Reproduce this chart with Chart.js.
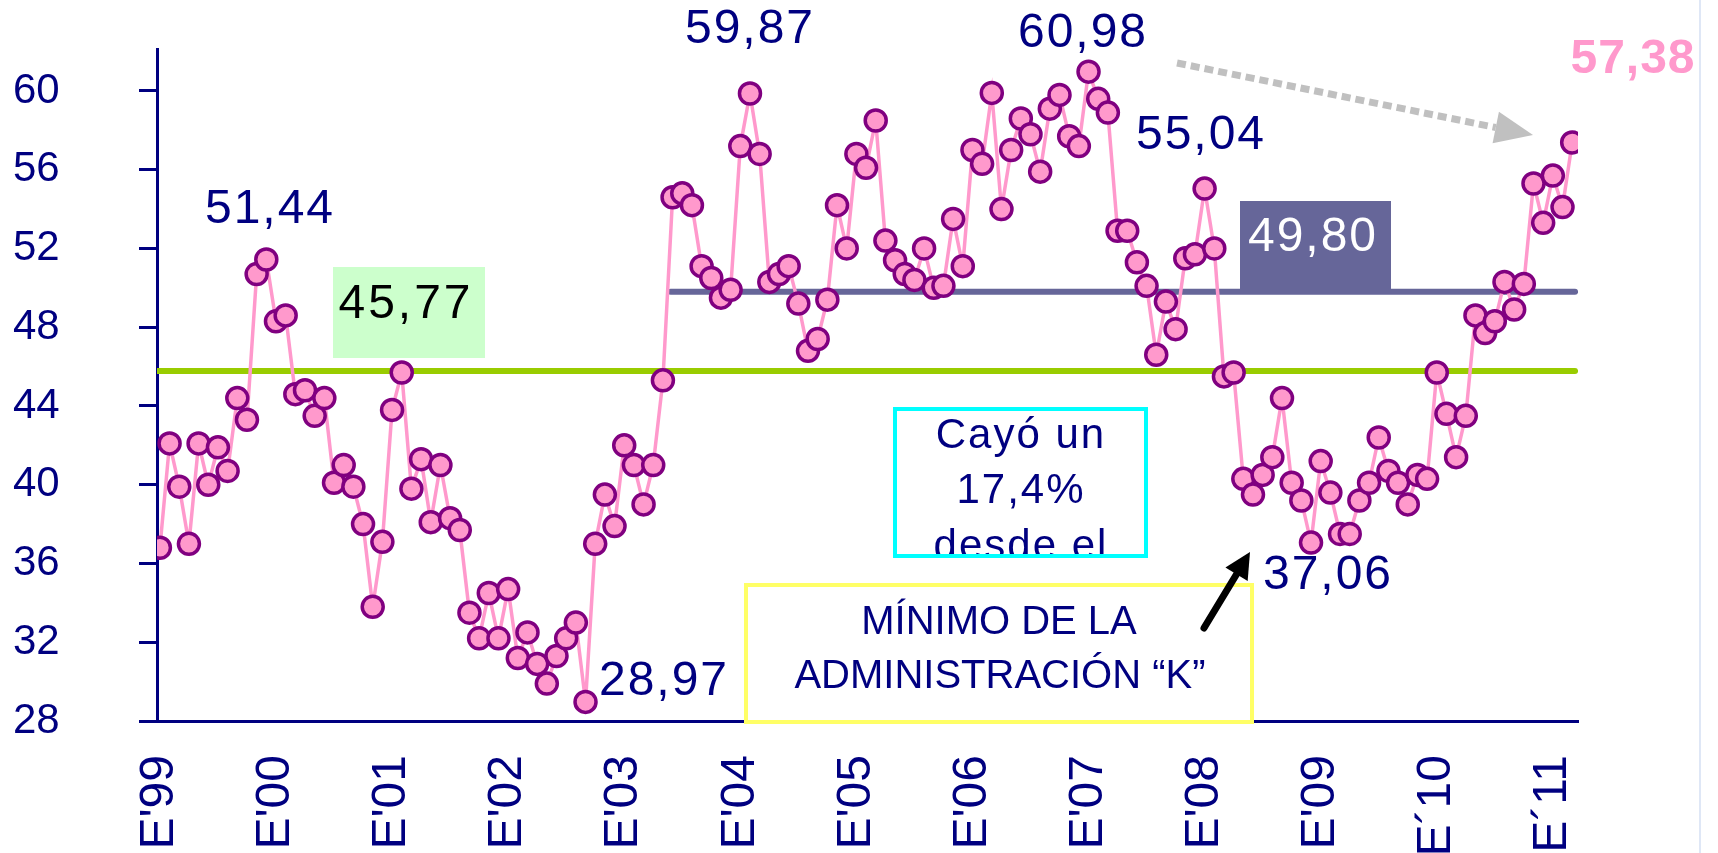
<!DOCTYPE html>
<html>
<head>
<meta charset="utf-8">
<script src="https://cdn.jsdelivr.net/npm/chart.js@4.4.0/dist/chart.umd.min.js"></script>
<style>
html,body{margin:0;padding:0;background:#ffffff;}
#wrap{width:1718px;height:853px;position:relative;}
</style>
</head>
<body>
<div id="wrap"><canvas id="c" width="1718" height="853"></canvas></div>
<script>
// ---- DATA ----
const yearLabels = ["E'99","E'00","E'01","E'02","E'03","E'04","E'05","E'06","E'07","E'08","E'09","E´10","E´11"];
const yearTickIndex = [0,12,24,36,48,60,72,84,96,108,120,132,144];

// Monthly index, Jan 1999 - Mar 2011
const indice1999 = [36.8,42.1,39.9,37.0,42.1,40.0,41.9,40.7,44.4,43.3,50.7,51.44];
const indice2000 = [48.3,48.6,44.6,44.8,43.5,44.4,40.1,41.0,39.9,38.0,33.8,37.1];
const indice2001 = [43.8,45.7,39.8,41.3,38.1,41.0,38.3,37.7,33.5,32.2,34.5,32.2];
const indice2002 = [34.7,31.2,32.5,30.9,29.9,31.3,32.2,33.0,28.97,37.0,39.5,37.9];
const indice2003 = [42.0,41.0,39.0,41.0,45.3,54.6,54.8,54.2,51.1,50.5,49.5,49.9];
const indice2004 = [57.2,59.87,56.8,50.3,50.7,51.1,49.2,46.8,47.4,49.4,54.2,52.0];
const indice2005 = [56.8,56.1,58.5,52.4,51.4,50.7,50.4,52.0,50.0,50.1,53.5,51.1];
const indice2006 = [57.0,56.3,59.9,54.0,57.0,58.6,57.8,55.9,59.1,59.8,57.7,57.2];
const indice2007 = [60.98,59.6,58.9,52.9,52.9,51.3,50.1,46.6,49.3,47.9,51.5,51.7];
const indice2008 = [55.04,52.0,45.5,45.7,40.3,39.5,40.5,41.4,44.4,40.1,39.2,37.06];
const indice2009 = [41.2,39.6,37.5,37.5,39.2,40.1,42.4,40.7,40.1,39.0,40.5,40.3];
const indice2010 = [45.7,43.6,41.4,43.5,48.6,47.7,48.3,50.3,48.9,50.2,55.3,53.3];
const indice2011 = [55.7,54.1,57.38];

const promedioTotal = 45.77;   // average of whole period
const promedioK = 49.80;       // average since May 2003
const inicioK = 52.8;          // month index where the "K" average line starts
const finLineas = 146.3;       // month index where reference lines end

const yTicks = [28,32,36,40,44,48,52,56,60];

// ---- BUILD ----
const indice = [].concat(indice1999,indice2000,indice2001,indice2002,indice2003,indice2004,
  indice2005,indice2006,indice2007,indice2008,indice2009,indice2010,indice2011);
const serie = indice.map((v,i)=>({x:i,y:v}));

const NAVY = '#000080';
const FONT = '"Liberation Sans", Arial, sans-serif';

function txt(ctx, s, x, y, size, color, opts) {
  opts = opts || {};
  ctx.save();
  ctx.font = (opts.bold ? 'bold ' : '') + size + 'px ' + FONT;
  ctx.fillStyle = color;
  ctx.textAlign = opts.align || 'center';
  ctx.textBaseline = 'middle';
  if ('letterSpacing' in ctx) ctx.letterSpacing = (opts.spacing != null ? opts.spacing : 2) + 'px';
  ctx.fillText(s, x, y);
  ctx.restore();
}

function arrow(ctx, x1, y1, x2, y2, color, lw, headLen, headW, dash) {
  const ang = Math.atan2(y2 - y1, x2 - x1);
  const bx = x2 - headLen * Math.cos(ang), by = y2 - headLen * Math.sin(ang);
  ctx.save();
  ctx.strokeStyle = color; ctx.fillStyle = color; ctx.lineWidth = lw; ctx.lineCap = dash ? 'butt' : 'round';
  if (dash) ctx.setLineDash(dash);
  ctx.beginPath(); ctx.moveTo(x1, y1); ctx.lineTo(bx, by); ctx.stroke();
  ctx.setLineDash([]);
  ctx.beginPath();
  ctx.moveTo(x2, y2);
  ctx.lineTo(bx + headW/2 * Math.sin(ang), by - headW/2 * Math.cos(ang));
  ctx.lineTo(bx - headW/2 * Math.sin(ang), by + headW/2 * Math.cos(ang));
  ctx.closePath(); ctx.fill();
  ctx.restore();
}

const annotPlugin = {
  id: 'annot',
  beforeDraw(chart) {
    const ctx = chart.ctx;
    ctx.save(); ctx.fillStyle = '#ffffff'; ctx.fillRect(0, 0, chart.width, chart.height);
    ctx.strokeStyle = '#dfe7f6'; ctx.lineWidth = 2;
    ctx.beginPath(); ctx.moveTo(1700, 0); ctx.lineTo(1700, 853); ctx.stroke();
    ctx.restore();
  },
  afterDraw(chart) {
    const ctx = chart.ctx;
    // value callouts
    txt(ctx, '51,44', 270, 210, 48, NAVY);
    txt(ctx, '59,87', 750, 30, 48, NAVY);
    txt(ctx, '60,98', 1083, 34, 48, NAVY);
    txt(ctx, '55,04', 1201, 136, 48, NAVY);
    txt(ctx, '28,97', 664, 682, 48, NAVY);
    txt(ctx, '37,06', 1328, 576, 48, NAVY);
    txt(ctx, '57,38', 1633, 60, 48, '#FF99CC', {bold: true, spacing: 1});

    // average boxes
    ctx.save(); ctx.fillStyle = '#CCFFCC'; ctx.fillRect(333, 267, 152, 91); ctx.restore();
    txt(ctx, '45,77', 406, 305, 48, '#000000', {spacing: 3});
    ctx.save(); ctx.fillStyle = '#666699'; ctx.fillRect(1240, 201, 151, 90); ctx.restore();
    txt(ctx, '49,80', 1313, 238, 48, '#ffffff', {spacing: 2});

    // cyan box
    ctx.save();
    ctx.fillStyle = '#ffffff'; ctx.fillRect(895, 409, 251, 147);
    ctx.beginPath(); ctx.rect(895, 409, 251, 147); ctx.clip();
    txt(ctx, 'Cayó un', 1021, 436, 42, NAVY);
    txt(ctx, '17,4%', 1021, 491, 42, NAVY);
    txt(ctx, 'desde el', 1021, 547, 42, NAVY);
    ctx.restore();
    ctx.save(); ctx.strokeStyle = '#00FFFF'; ctx.lineWidth = 4; ctx.strokeRect(895, 409, 251, 147); ctx.restore();

    // yellow box (covers the x axis)
    ctx.save();
    ctx.fillStyle = '#ffffff'; ctx.fillRect(746, 585, 506, 137);
    ctx.strokeStyle = '#FFFF66'; ctx.lineWidth = 4; ctx.strokeRect(746, 585, 506, 137);
    ctx.restore();
    txt(ctx, 'MÍNIMO DE LA', 999, 623, 40, NAVY, {spacing: 0});
    txt(ctx, 'ADMINISTRACIÓN “K”', 1000, 677, 40, NAVY, {spacing: 0});

    // arrows
    arrow(ctx, 1204, 628, 1250, 552, '#000000', 7, 26, 26, null);
    arrow(ctx, 1177, 63, 1533, 135, '#C0C0C0', 7, 38, 32, [9, 5]);
  }
};

new Chart(document.getElementById('c'), {
  type: 'line',
  data: {
    datasets: [
      {
        label: 'Índice',
        data: serie,
        borderColor: '#FF99CC',
        borderWidth: 3.5,
        pointBackgroundColor: '#FF99CC',
        pointBorderColor: '#800080',
        pointBorderWidth: 3.5,
        pointRadius: 10.5,
        tension: 0,
        order: 0
      },
      {
        label: 'Promedio K',
        data: [{x: inicioK, y: promedioK}, {x: finLineas, y: promedioK}],
        borderColor: '#666699',
        borderWidth: 6,
        borderCapStyle: 'round',
        pointRadius: 0,
        order: 1
      },
      {
        label: 'Promedio',
        data: [{x: -0.3, y: promedioTotal}, {x: finLineas, y: promedioTotal}],
        borderColor: '#99CC00',
        borderWidth: 6,
        borderCapStyle: 'round',
        pointRadius: 0,
        order: 2
      }
    ]
  },
  options: {
    responsive: false,
    animation: false,
    devicePixelRatio: 1,
    layout: { padding: { top: 49, right: 140, bottom: 0, left: 13 } },
    plugins: { legend: { display: false }, tooltip: { enabled: false } },
    scales: {
      x: {
        type: 'linear',
        min: -0.3,
        max: 146.6,
        afterFit(s) { s.height = 132; },
        afterBuildTicks(s) { s.ticks = yearTickIndex.map(v => ({value: v})); },
        grid: { display: false, drawTicks: false },
        border: { display: true, color: NAVY, width: 3 },
        ticks: {
          autoSkip: false,
          minRotation: 90,
          maxRotation: 90,
          padding: 34,
          color: NAVY,
          font: { family: FONT, size: 48 },
          callback(v) { const k = yearTickIndex.indexOf(v); return k >= 0 ? yearLabels[k] : ''; }
        }
      },
      y: {
        min: 28,
        max: 62.13,
        afterFit(s) { s.width = 144; },
        afterBuildTicks(s) { s.ticks = yTicks.map(v => ({value: v})); },
        grid: { display: true, drawOnChartArea: false, drawTicks: true, tickLength: 18, color: NAVY, lineWidth: 3 },
        border: { display: true, color: NAVY, width: 3 },
        ticks: {
          padding: 4,
          crossAlign: 'far',
          color: NAVY,
          font: { family: FONT, size: 42 },
          callback(v) { return String(v); }
        }
      }
    }
  },
  plugins: [annotPlugin]
});
</script>
</body>
</html>
